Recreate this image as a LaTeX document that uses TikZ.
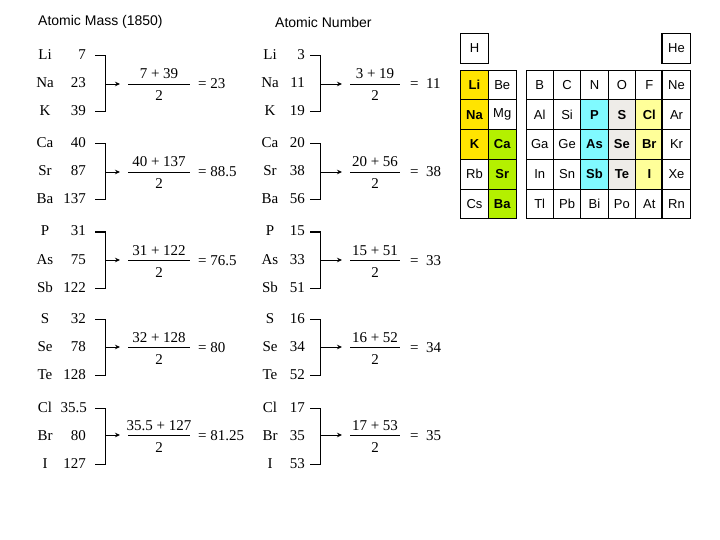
\documentclass[tikz,border=0pt]{standalone}
\usepackage{fontspec}
\setmainfont{Liberation Serif}
\newfontfamily\arial{Liberation Sans}
\usetikzlibrary{arrows.meta}
\definecolor{cyel}{RGB}{255,228,0}
\definecolor{clime}{RGB}{180,240,0}
\definecolor{ccyan}{RGB}{128,250,255}
\definecolor{cgray}{RGB}{238,236,232}
\definecolor{clyel}{RGB}{255,255,153}
\tikzset{
  lab/.style={font=\fontsize{15}{17}\selectfont, inner sep=0},
  symb/.style={lab, anchor=base},
  numb/.style={lab, anchor=base east},
  ttl/.style={font=\arial\fontsize{14}{16}\selectfont, anchor=west, inner sep=0},
  brk/.style={line width=1pt},
  arr/.style={-{Stealth[length=5pt,width=4.5pt]}, line width=0.8pt},
  fline/.style={line width=0.8pt},
  cell/.style={draw, line width=0.7pt, minimum width=27.4pt, minimum height=29.8pt,
    font=\arial\fontsize{13}{15}\selectfont, inner sep=0},
  bcell/.style={cell, font=\arial\bfseries\fontsize{13}{15}\selectfont},
}
% row: name, symx, numx, y(center), symbol, number
\newcommand\erow[6]{%
  \node[symb] (#1s) at (#2,#4+5) {#5};
  \node[numb] (#1n) at (#3,#4+5) {#6};}
% bracket+fraction: name, brx, ytop, ybot, ymid, fx, numerator, result, eqx
\newcommand\bfrac[9]{%
  \coordinate (#1a) at (#2-10,#3);
  \coordinate (#1b) at (#2,#3);
  \coordinate (#1c) at (#2,#4);
  \coordinate (#1d) at (#2-10,#4);
  \draw[brk] (#1a) -- (#1b) -- (#1c) -- (#1d);
  \coordinate (#1m) at (#2,#5);
  \coordinate (#1l) at (#6-\fhw,#5);
  \coordinate (#1r) at (#6+\fhw,#5);
  \draw[fline] (#1l) -- (#1r);
  \draw[arr, shorten >=8pt] (#1m) -- (#1l);
  \node[lab, anchor=base] (#1t) at (#6,#5-5) {#7};
  \node[lab, anchor=base] (#1u) at (#6,#5+17) {2};
  \node[lab, anchor=base west] (#1e) at (#9,#5+5) {#8};}
\newcommand\pc[4]{\node[cell,fill=#3] (pt-#4) at (#1,#2) {#4};}
\newcommand\pcb[4]{\node[bcell,fill=#3] (pt-#4) at (#1,#2) {#4};}
\begin{document}
\begin{tikzpicture}[x=1pt,y=-1pt]
\useasboundingbox[fill=white] (0,0) rectangle (720,540);
% titles
\node[ttl] (t1) at (38,22) {Atomic Mass (1850)};
\node[ttl] (t2) at (275,22) {Atomic Number};
% ---------- left column (atomic mass)
\def\fhw{31}
\erow{L1a}{45}{86}{55}{Li}{7}
\erow{L1b}{45}{86}{83}{Na}{23}
\erow{L1c}{45}{86}{111}{K}{39}
\bfrac{L1}{105}{56}{112}{84}{159}{7 + 39}{= 23}{198}
\erow{L2a}{45}{86}{143}{Ca}{40}
\erow{L2b}{45}{86}{171}{Sr}{87}
\erow{L2c}{45}{86}{199}{Ba}{137}
\bfrac{L2}{105}{144}{200}{172}{159}{40 + 137}{= 88.5}{198}
\erow{L3a}{45}{86}{231}{P}{31}
\erow{L3b}{45}{86}{259}{As}{75}
\erow{L3c}{45}{86}{287}{Sb}{122}
\bfrac{L3}{105}{232}{288}{260}{159}{31 + 122}{= 76.5}{198}
\erow{L4a}{45}{86}{318}{S}{32}
\erow{L4b}{45}{86}{346}{Se}{78}
\erow{L4c}{45}{86}{374}{Te}{128}
\bfrac{L4}{105}{319}{375}{347}{159}{32 + 128}{= 80}{198}
\erow{L5a}{45}{87}{407}{Cl}{35.5}
\erow{L5b}{45}{86}{435}{Br}{80}
\erow{L5c}{45}{86}{463}{I}{127}
\bfrac{L5}{105}{408}{464}{435}{159}{35.5 + 127}{= 81.25}{198}
% ---------- right column (atomic number)
\def\fhw{25}
\erow{R1a}{270}{305}{55}{Li}{3}
\erow{R1b}{270}{305}{83}{Na}{11}
\erow{R1c}{270}{305}{111}{K}{19}
\bfrac{R1}{320}{56}{112}{84}{375}{3 + 19}{=\ \ 11}{410}
\erow{R2a}{270}{305}{143}{Ca}{20}
\erow{R2b}{270}{305}{171}{Sr}{38}
\erow{R2c}{270}{305}{199}{Ba}{56}
\bfrac{R2}{320}{144}{200}{172}{375}{20 + 56}{=\ \ 38}{410}
\erow{R3a}{270}{305}{231}{P}{15}
\erow{R3b}{270}{305}{259}{As}{33}
\erow{R3c}{270}{305}{287}{Sb}{51}
\bfrac{R3}{320}{232}{288}{260}{375}{15 + 51}{=\ \ 33}{410}
\erow{R4a}{270}{305}{318}{S}{16}
\erow{R4b}{270}{305}{346}{Se}{34}
\erow{R4c}{270}{305}{374}{Te}{52}
\bfrac{R4}{320}{319}{375}{347}{375}{16 + 52}{=\ \ 34}{410}
\erow{R5a}{270}{305}{407}{Cl}{17}
\erow{R5b}{270}{305}{435}{Br}{35}
\erow{R5c}{270}{305}{463}{I}{53}
\bfrac{R5}{320}{408}{464}{435}{375}{17 + 53}{=\ \ 35}{410}
% ---------- periodic table
\def\ra{85}\def\rb{114.7}\def\rc{144.4}\def\rd{174.1}\def\re{203.8}
\def\ca{474.5}\def\cb{502.2}
\def\cc{539.7}\def\cd{567.1}\def\ce{594.5}\def\cf{621.9}\def\cg{649.3}\def\ch{676.5}
\pc{\ca}{48.5}{white}{H}
\pc{\ch}{48.5}{white}{He}
% s block
\pcb{\ca}{\ra}{cyel}{Li}  \pc{\cb}{\ra}{white}{Be}
\pcb{\ca}{\rb}{cyel}{Na}  \pc{\cb}{\rb}{white}{Mg}
\pcb{\ca}{\rc}{cyel}{K}   \pcb{\cb}{\rc}{clime}{Ca}
\pc{\ca}{\rd}{white}{Rb}  \pcb{\cb}{\rd}{clime}{Sr}
\pc{\ca}{\re}{white}{Cs}  \pcb{\cb}{\re}{clime}{Ba}
% p block
\pc{\cc}{\ra}{white}{B}  \pc{\cd}{\ra}{white}{C}  \pc{\ce}{\ra}{white}{N}
\pc{\cf}{\ra}{white}{O}  \pc{\cg}{\ra}{white}{F}  \pc{\ch}{\ra}{white}{Ne}
\pc{\cc}{\rb}{white}{Al} \pc{\cd}{\rb}{white}{Si} \pcb{\ce}{\rb}{ccyan}{P}
\pcb{\cf}{\rb}{cgray}{S} \pcb{\cg}{\rb}{clyel}{Cl} \pc{\ch}{\rb}{white}{Ar}
\pc{\cc}{\rc}{white}{Ga} \pc{\cd}{\rc}{white}{Ge} \pcb{\ce}{\rc}{ccyan}{As}
\pcb{\cf}{\rc}{cgray}{Se} \pcb{\cg}{\rc}{clyel}{Br} \pc{\ch}{\rc}{white}{Kr}
\pc{\cc}{\rd}{white}{In} \pc{\cd}{\rd}{white}{Sn} \pcb{\ce}{\rd}{ccyan}{Sb}
\pcb{\cf}{\rd}{cgray}{Te} \pcb{\cg}{\rd}{clyel}{I} \pc{\ch}{\rd}{white}{Xe}
\pc{\cc}{\re}{white}{Tl} \pc{\cd}{\re}{white}{Pb} \pc{\ce}{\re}{white}{Bi}
\pc{\cf}{\re}{white}{Po} \pc{\cg}{\re}{white}{At} \pc{\ch}{\re}{white}{Rn}
% thick separators before noble gases
\draw[line width=2pt] (pt-He.north west) -- (pt-He.south west);
\draw[line width=2pt] (pt-Ne.north west) -- (pt-Rn.south west);
\end{tikzpicture}
\end{document}
